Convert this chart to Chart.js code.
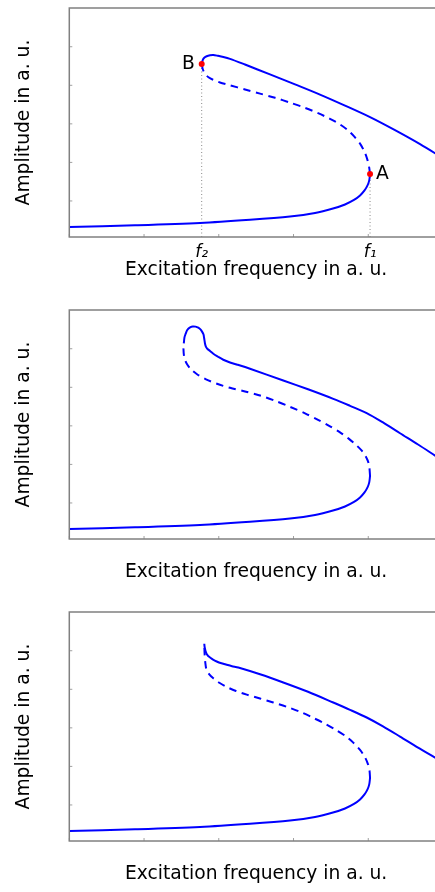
<!DOCTYPE html>
<html>
<head>
<meta charset="utf-8">
<script src="https://cdn.jsdelivr.net/npm/chart.js@4.4.0/dist/chart.umd.min.js"></script>
<style>
    html, body { margin: 0; padding: 0; background: #fff; overflow: hidden; width: 435px; height: 892px; }
    .panel { position: absolute; left: 0; width: 450px; height: 290px; }
</style>
</head>
<body>
<div class="panel" style="top:0px"><canvas id="chart-1"></canvas></div>
<div class="panel" style="top:302px"><canvas id="chart-2"></canvas></div>
<div class="panel" style="top:604px"><canvas id="chart-3"></canvas></div>
<script>
// 坐标轴范围与刻度
const xRange = [0, 5];
const yRange = [0.065, 6.005];
const xTicks = [0, 1, 2, 3, 4, 5];
const yTicks = [1, 2, 3, 4, 5];

// 跳跃点 (图 1)
const f1 = 4.024;
const f2 = 1.7715;
const pointA = [4.024, 1.70];
const pointB = [1.7715, 4.551];
const freqLabels = ['f\u2082', 'f\u2081'];

// 下支 (三个图相同)
const lowerX = [0, 0.879, 1.749, 2.418, 2.953, 3.288, 3.528, 3.689, 3.809, 3.890, 3.950, 3.990, 4.013, 4.024];
const lowerY = [0.325, 0.369, 0.429, 0.512, 0.597, 0.688, 0.803, 0.909, 1.026, 1.143, 1.273, 1.403, 1.533, 1.70];

// 图 1: 不稳定支 / 上支
const p1DashX = [4.024, 4.011, 3.987, 3.950, 3.896, 3.823, 3.729, 3.622, 3.488, 3.328, 3.154, 2.953, 2.753, 2.552, 2.351, 2.150, 2.016, 1.923, 1.862, 1.816, 1.786, 1.7715];
const p1DashY = [1.70, 1.883, 2.078, 2.273, 2.468, 2.649, 2.831, 2.984, 3.130, 3.278, 3.416, 3.551, 3.675, 3.784, 3.891, 4.000, 4.073, 4.143, 4.208, 4.299, 4.416, 4.551];
const p1UpperX = [1.7715, 1.785, 1.809, 1.838, 1.883, 1.927, 1.990, 2.061, 2.150, 2.351, 2.685, 3.020, 3.354, 3.689, 4.024, 4.358, 4.693, 5.0];
const p1UpperY = [4.551, 4.655, 4.720, 4.754, 4.777, 4.785, 4.764, 4.735, 4.686, 4.538, 4.283, 4.023, 3.759, 3.473, 3.174, 2.836, 2.473, 2.110];

// 图 2
const p2DashX = [4.024, 4.015, 3.997, 3.963, 3.910, 3.836, 3.742, 3.622, 3.488, 3.328, 3.154, 2.953, 2.753, 2.552, 2.351, 2.150, 1.976, 1.829, 1.709, 1.628, 1.568, 1.537, 1.528, 1.532];
const p2DashY = [1.70, 1.917, 2.078, 2.221, 2.364, 2.507, 2.662, 2.831, 2.987, 3.156, 3.325, 3.494, 3.649, 3.787, 3.891, 3.987, 4.091, 4.208, 4.338, 4.468, 4.623, 4.792, 4.974, 5.138];
const p2UpperX = [1.532, 1.541, 1.557, 1.575, 1.592, 1.622, 1.651, 1.689, 1.726, 1.755, 1.780, 1.796, 1.802, 1.809, 1.816, 1.829, 1.846, 1.883, 1.927, 1.990, 2.060, 2.150, 2.240, 2.418, 2.863, 3.194, 3.532, 3.756, 3.979, 4.197, 4.425, 4.666, 4.894, 5.0];
const p2UpperY = [5.138, 5.294, 5.390, 5.476, 5.519, 5.561, 5.579, 5.574, 5.545, 5.501, 5.431, 5.371, 5.301, 5.216, 5.130, 5.047, 5.000, 4.943, 4.870, 4.792, 4.714, 4.644, 4.592, 4.481, 4.177, 3.948, 3.701, 3.520, 3.332, 3.088, 2.808, 2.517, 2.229, 2.096];

// 图 3
const p3DashX = [4.024, 4.017, 3.997, 3.957, 3.890, 3.796, 3.711, 3.555, 3.398, 3.234, 3.087, 2.909, 2.729, 2.552, 2.374, 2.230, 2.106, 2.007, 1.927, 1.873, 1.836, 1.820, 1.810, 1.806];
const p3DashY = [1.70, 1.883, 2.052, 2.234, 2.429, 2.623, 2.766, 2.961, 3.130, 3.286, 3.416, 3.546, 3.657, 3.761, 3.862, 3.956, 4.060, 4.169, 4.286, 4.390, 4.506, 4.688, 4.935, 5.182];
const p3UpperX = [1.806, 1.810, 1.816, 1.826, 1.838, 1.858, 1.883, 1.923, 1.972, 2.036, 2.106, 2.177, 2.261, 2.552, 2.863, 3.194, 3.532, 3.756, 3.979, 4.197, 4.425, 4.666, 4.894, 5.0];
const p3UpperY = [5.182, 5.104, 5.044, 4.974, 4.914, 4.865, 4.826, 4.771, 4.722, 4.675, 4.636, 4.600, 4.566, 4.390, 4.177, 3.935, 3.657, 3.468, 3.268, 3.039, 2.774, 2.488, 2.229, 2.107];

const xTitle = 'Excitation frequency in a. u.';
const yTitle = 'Amplitude in a. u.';

Chart.defaults.font.family = '"DejaVu Sans", sans-serif';
Chart.defaults.color = '#000';

const BLUE = '#0000ff';
const FRAME = '#808080';

function zipXY(xs, ys) {
    return xs.map((x, i) => ({ x: x, y: ys[i] }));
}

function curve(xs, ys, dashed) {
    return {
        data: zipXY(xs, ys),
        borderColor: BLUE,
        borderWidth: 2,
        borderDash: dashed ? [7.5, 5.5] : [],
        pointRadius: 0,
        tension: 0.3,
        fill: false
    };
}

/**
 * 画外框和向内的刻度线 (matplotlib 风格)
 */
const framePlugin = {
    id: 'frame',
    afterDraw(chart) {
        const { ctx, chartArea: a } = chart;
        const xs = chart.scales.x;
        const ys = chart.scales.y;
        ctx.save();
        ctx.strokeStyle = '#a0a0a0';
        ctx.lineWidth = 1;
        ctx.beginPath();
        xTicks.forEach(v => {
            const px = xs.getPixelForValue(v);
            ctx.moveTo(px, a.bottom);
            ctx.lineTo(px, a.bottom - 3);
        });
        yTicks.forEach(v => {
            const py = ys.getPixelForValue(v);
            ctx.moveTo(a.left, py);
            ctx.lineTo(a.left + 3, py);
        });
        ctx.stroke();
        ctx.strokeStyle = FRAME;
        ctx.lineWidth = 1.5;
        ctx.strokeRect(a.left, a.top, a.right - a.left, a.bottom - a.top);
        ctx.restore();
    }
};

/**
 * 点 A / B 的文字标注
 */
const pointLabelPlugin = {
    id: 'pointLabels',
    afterDatasetsDraw(chart, args, opts) {
        if (!opts || !opts.items) return;
        const { ctx } = chart;
        ctx.save();
        ctx.font = '18.7px "DejaVu Sans"';
        ctx.fillStyle = '#000';
        ctx.textBaseline = 'middle';
        opts.items.forEach(it => {
            const px = chart.scales.x.getPixelForValue(it.x);
            const py = chart.scales.y.getPixelForValue(it.y);
            ctx.textAlign = it.dx < 0 ? 'right' : 'left';
            ctx.fillText(it.text, px + it.dx, py);
        });
        ctx.restore();
    }
};

function makeOptions(withFreqTicks, labelItems) {
    return {
        responsive: true,
        maintainAspectRatio: false,
        animation: false,
        devicePixelRatio: 1,
        layout: { padding: { top: 8, right: 7, bottom: 0, left: 0 } },
        plugins: {
            legend: { display: false },
            tooltip: { enabled: false },
            pointLabels: { items: labelItems || [] }
        },
        scales: {
            x: {
                type: 'linear',
                min: xRange[0],
                max: xRange[1],
                grid: { display: false, drawTicks: false },
                border: { display: false },
                afterBuildTicks: withFreqTicks ? (s) => {
                    s.ticks = [{ value: f2 }, { value: f1 }];
                } : undefined,
                ticks: {
                    display: withFreqTicks,
                    autoSkip: false,
                    maxRotation: 0,
                    padding: 5,
                    font: { size: 17, style: 'italic' },
                    callback: (v) => {
                        if (Math.abs(v - f2) < 1e-6) return freqLabels[0];
                        if (Math.abs(v - f1) < 1e-6) return freqLabels[1];
                        return '';
                    }
                },
                title: {
                    display: true,
                    text: xTitle,
                    font: { size: 18.7 },
                    padding: { top: 0, bottom: 8.4 }
                },
                afterFit: (s) => { s.height = 53; }
            },
            y: {
                type: 'linear',
                min: yRange[0],
                max: yRange[1],
                grid: { display: false, drawTicks: false },
                border: { display: false },
                ticks: { display: false, stepSize: 1 },
                title: {
                    display: true,
                    text: yTitle,
                    font: { size: 18.7 },
                    padding: { top: 12.6, bottom: 0 }
                },
                afterFit: (s) => { s.width = 69.3; }
            }
        }
    };
}

// 图 1
new Chart(document.getElementById('chart-1'), {
    type: 'line',
    data: {
        datasets: [
            {
                data: [{ x: pointA[0], y: pointA[1] }, { x: pointB[0], y: pointB[1] }],
                showLine: false,
                pointRadius: 3,
                pointBackgroundColor: '#ff0000',
                pointBorderWidth: 0
            },
            curve(lowerX, lowerY, false),
            curve(p1DashX, p1DashY, true),
            curve(p1UpperX, p1UpperY, false),
            {
                data: [{ x: f2, y: yRange[0] }, { x: f2, y: pointB[1] }],
                borderColor: '#888',
                borderWidth: 1,
                borderDash: [1, 2.5],
                pointRadius: 0
            },
            {
                data: [{ x: f1, y: yRange[0] }, { x: f1, y: pointA[1] }],
                borderColor: '#888',
                borderWidth: 1,
                borderDash: [1, 2.5],
                pointRadius: 0
            }
        ]
    },
    options: makeOptions(true, [
        { text: 'A', x: pointA[0], y: pointA[1], dx: 6 },
        { text: 'B', x: pointB[0], y: pointB[1], dx: -7 }
    ]),
    plugins: [framePlugin, pointLabelPlugin]
});

// 图 2
new Chart(document.getElementById('chart-2'), {
    type: 'line',
    data: {
        datasets: [
            curve(lowerX, lowerY, false),
            curve(p2DashX, p2DashY, true),
            curve(p2UpperX, p2UpperY, false)
        ]
    },
    options: makeOptions(false),
    plugins: [framePlugin]
});

// 图 3
new Chart(document.getElementById('chart-3'), {
    type: 'line',
    data: {
        datasets: [
            curve(lowerX, lowerY, false),
            curve(p3DashX, p3DashY, true),
            curve(p3UpperX, p3UpperY, false)
        ]
    },
    options: makeOptions(false),
    plugins: [framePlugin]
});
</script>
</body>
</html>
